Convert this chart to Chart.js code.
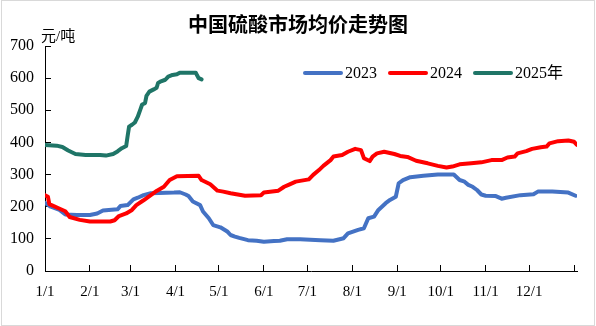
<!DOCTYPE html>
<html>
<head>
<meta charset="utf-8">
<script src="https://cdn.jsdelivr.net/npm/chart.js@4/dist/chart.umd.min.js"></script>
<style>
  body { margin: 0; background: #fff; }
  canvas { display: block; }
</style>
</head>
<body>
<canvas id="grafico" width="596" height="326"></canvas>
<script>
// 日期按当年第几天记（1/1 = 0），价格单位 元/吨
var dias2023 = [0, 4, 10, 14, 22, 31, 36, 40, 50, 52, 57, 61, 64, 68, 73, 89, 93, 97, 99, 102, 107, 109, 113, 116, 121, 126, 128, 131, 134, 140, 146, 151, 158, 162, 167, 176, 190, 199, 206, 209, 216, 220, 223, 227, 230, 235, 238, 242, 244, 247, 252, 261, 271, 282, 286, 289, 292, 295, 298, 301, 304, 311, 315, 318, 328, 337, 340, 350, 361, 366];
var preco2023 = [212, 200, 190, 176, 174, 174, 179, 188, 192, 202, 205, 223, 228, 236, 242, 244, 245, 238, 233, 216, 205, 185, 164, 143, 136, 122, 112, 107, 103, 96, 94, 91, 93, 94, 99, 99, 96, 94, 102, 117, 128, 133, 164, 169, 190, 211, 221, 231, 273, 283, 292, 296, 300, 300, 283, 279, 268, 262, 252, 238, 234, 233, 225, 228, 236, 239, 247, 247, 244, 234];

var dias2024 = [0, 2, 3, 9, 14, 17, 24, 31, 45, 48, 51, 56, 60, 63, 68, 73, 77, 82, 86, 91, 106, 108, 114, 119, 123, 128, 138, 149, 151, 161, 165, 168, 173, 182, 185, 189, 192, 197, 199, 205, 209, 214, 218, 220, 224, 226, 229, 234, 241, 245, 250, 256, 264, 271, 277, 281, 286, 294, 301, 308, 315, 319, 324, 326, 332, 336, 342, 346, 348, 354, 361, 365, 367];
var preco2024 = [236, 231, 208, 196, 186, 168, 159, 154, 154, 158, 171, 179, 190, 205, 220, 236, 249, 262, 283, 295, 296, 283, 270, 250, 247, 242, 234, 236, 244, 250, 262, 268, 278, 285, 299, 314, 327, 345, 356, 361, 371, 380, 376, 351, 342, 356, 366, 371, 364, 358, 355, 343, 335, 327, 322, 325, 332, 335, 338, 345, 345, 353, 356, 366, 373, 380, 385, 387, 397, 404, 406, 402, 392];

var dias2025 = [0, 8, 12, 16, 21, 28, 38, 42, 47, 50, 53, 56, 57, 58, 60, 62, 64, 66, 67, 69, 70, 72, 75, 77, 78, 80, 83, 85, 88, 91, 93, 100, 104, 105, 106, 108];
var preco2025 = [392, 390, 386, 375, 364, 361, 361, 359, 364, 372, 382, 389, 420, 449, 455, 462, 480, 505, 518, 522, 545, 558, 565, 570, 585, 590, 595, 605, 610, 612, 617, 617, 617, 608, 600, 596];

// 横轴刻度：每月 1 日
var marcasMes = [0, 31, 59, 90, 120, 151, 181, 212, 243, 273, 304, 334, 365];
var rotulosMes = ['1/1', '2/1', '3/1', '4/1', '5/1', '6/1', '7/1', '8/1', '9/1', '10/1', '11/1', '12/1', ''];

var fonteNum = '"Liberation Serif", "Noto Sans CJK SC", serif';
var fonteCJK = '"Noto Sans CJK SC", sans-serif';

function juntarPontos(dias, precos) {
    var pontos = [];
    for (var i = 0; i < dias.length; i++) {
        pontos.push({ x: dias[i], y: precos[i] });
    }
    return pontos;
}

// 标题、单位、图例和外框直接画在画布上
var extras = {
    id: 'extras',
    beforeDraw: function (chart) {
        var ctx = chart.ctx;
        ctx.save();
        ctx.fillStyle = '#fff';
        ctx.fillRect(0, 0, chart.width, chart.height);
        ctx.strokeStyle = '#d9d9d9';
        ctx.lineWidth = 1;
        ctx.strokeRect(1.5, 0.5, 593, 325);
        ctx.restore();
    },
    afterDraw: function (chart) {
        var ctx = chart.ctx;
        ctx.save();
        ctx.fillStyle = '#000';
        ctx.textBaseline = 'middle';

        ctx.font = 'bold 20px ' + fonteCJK;
        ctx.textAlign = 'center';
        ctx.fillText('中国硫酸市场均价走势图', 298, 24);

        ctx.font = '15px ' + fonteNum;
        ctx.textAlign = 'left';
        ctx.fillText('元/吨', 41, 37);

        // 图例
        ctx.font = '16px ' + fonteNum;
        var x = 305;
        var y = 73;
        chart.data.datasets.forEach(function (ds) {
            ctx.strokeStyle = ds.borderColor;
            ctx.lineWidth = 4;
            ctx.lineCap = 'round';
            ctx.beginPath();
            ctx.moveTo(x, y);
            ctx.lineTo(x + 36, y);
            ctx.stroke();
            ctx.fillText(ds.label, x + 40, y + 1);
            x = x + 40 + ctx.measureText(ds.label).width + 13;
        });
        ctx.restore();
    }
};

new Chart(document.getElementById('grafico'), {
    type: 'line',
    data: {
        datasets: [
            { label: '2023', data: juntarPontos(dias2023, preco2023), borderColor: '#4472c4', order: 3 },
            { label: '2024', data: juntarPontos(dias2024, preco2024), borderColor: '#ff0000', order: 2 },
            { label: '2025年', data: juntarPontos(dias2025, preco2025), borderColor: '#1f7567', order: 1 }
        ]
    },
    options: {
        responsive: false,
        animation: false,
        layout: { padding: { top: 46, right: 19, bottom: 0, left: 0 } },
        plugins: {
            legend: { display: false },
            tooltip: { enabled: false },
            title: { display: false }
        },
        elements: {
            point: { radius: 0 },
            line: { borderWidth: 4, tension: 0, borderJoinStyle: 'round', borderCapStyle: 'round', fill: false }
        },
        scales: {
            x: {
                type: 'linear',
                min: 0,
                max: 367,
                afterBuildTicks: function (s) {
                    s.ticks = marcasMes.map(function (v) { return { value: v }; });
                },
                afterFit: function (s) { s.height = 55; },
                ticks: {
                    autoSkip: false,
                    maxRotation: 0,
                    padding: 18,
                    color: '#000',
                    font: { family: fonteNum, size: 15 },
                    callback: function (v, i) { return rotulosMes[i]; }
                },
                grid: { drawOnChartArea: false, tickLength: -6, tickColor: '#000' },
                border: { color: '#000', width: 1 }
            },
            y: {
                min: 0,
                max: 700,
                afterFit: function (s) { s.width = 45; },
                ticks: {
                    stepSize: 100,
                    padding: 17,
                    color: '#000',
                    font: { family: fonteNum, size: 16 }
                },
                grid: { drawOnChartArea: false, tickLength: -6, tickColor: '#000' },
                border: { color: '#000', width: 1 }
            }
        }
    },
    plugins: [extras]
});
</script>
</body>
</html>
